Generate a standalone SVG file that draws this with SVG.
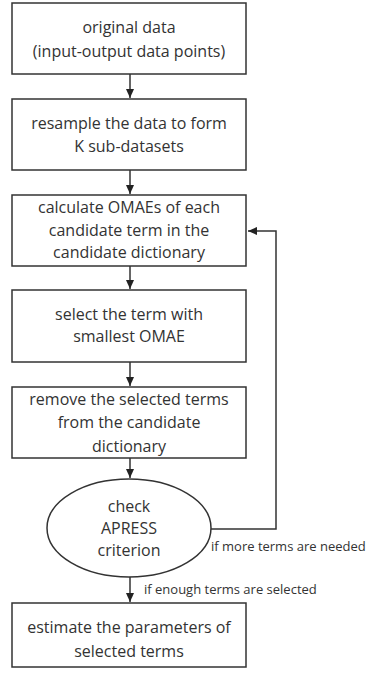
<svg xmlns="http://www.w3.org/2000/svg" width="368" height="677" viewBox="0 0 368 677">
<defs>
<style>
.b{fill:#fff;stroke:#333;stroke-width:1.5}
.t{font-family:"Open Sans","Liberation Sans",sans-serif;font-size:16px;fill:#333;text-anchor:middle}
.s{font-family:"Open Sans","Liberation Sans",sans-serif;font-size:13px;fill:#333}
.c{fill:none;stroke:#333;stroke-width:1.5}
</style>
<marker id="ah" markerWidth="10" markerHeight="10" refX="9" refY="5" orient="auto" markerUnits="userSpaceOnUse">
<path d="M0,1 L9,5 L0,9 Z" fill="#222"/>
</marker>
</defs>
<rect width="368" height="677" fill="#fff"/>
<g id="n1"><rect class="b" x="12" y="3" width="234" height="71"/>
<text class="t" x="129" y="33">original data</text>
<text class="t" x="129" y="57">(input-output data points)</text></g>
<g id="n2"><rect class="b" x="12" y="99" width="234" height="71"/>
<text class="t" x="129" y="129">resample the data to form</text>
<text class="t" x="129" y="152">K sub-datasets</text></g>
<g id="n3"><rect class="b" x="12" y="195" width="234" height="71"/>
<text class="t" x="129" y="213">calculate OMAEs of each</text>
<text class="t" x="129" y="236">candidate term in the</text>
<text class="t" x="129" y="258">candidate dictionary</text></g>
<g id="n4"><rect class="b" x="12" y="290" width="234" height="72"/>
<text class="t" x="129" y="320">select the term with</text>
<text class="t" x="129" y="342">smallest OMAE</text></g>
<g id="n5"><rect class="b" x="12" y="387" width="234" height="71"/>
<text class="t" x="129" y="405">remove the selected terms</text>
<text class="t" x="129" y="428">from the candidate</text>
<text class="t" x="129" y="452">dictionary</text></g>
<g id="n6"><ellipse class="b" cx="129" cy="528" rx="82" ry="49"/>
<text class="t" x="129" y="512">check</text>
<text class="t" x="129" y="534">APRESS</text>
<text class="t" x="129" y="556">criterion</text></g>
<g id="n7"><rect class="b" x="12" y="603" width="234" height="64"/>
<text class="t" x="129" y="633">estimate the parameters of</text>
<text class="t" x="129" y="657">selected terms</text></g>
<g id="connectors">
<line class="c" x1="130" y1="74" x2="130" y2="98" marker-end="url(#ah)"/>
<line class="c" x1="130" y1="170" x2="130" y2="194" marker-end="url(#ah)"/>
<line class="c" x1="130" y1="266" x2="130" y2="289" marker-end="url(#ah)"/>
<line class="c" x1="130" y1="362" x2="130" y2="386" marker-end="url(#ah)"/>
<line class="c" x1="130" y1="458" x2="130" y2="478" marker-end="url(#ah)"/>
<line class="c" x1="130" y1="577" x2="130" y2="602" marker-end="url(#ah)"/>
<polyline class="c" points="211,529 276,529 276,231 248,231" marker-end="url(#ah)"/>
<text class="s" x="211" y="551">if more terms are needed</text>
<text class="s" x="144" y="594">if enough terms are selected</text>
</g>
</svg>
